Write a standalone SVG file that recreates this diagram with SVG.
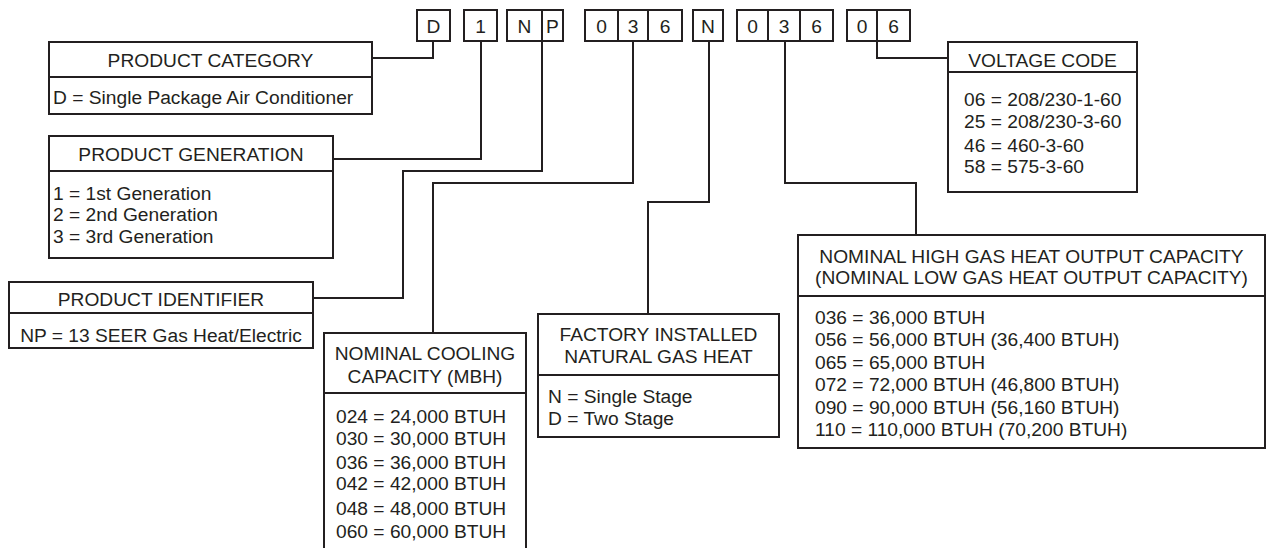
<svg xmlns="http://www.w3.org/2000/svg" width="1267" height="548" viewBox="0 0 1267 548">
<style>
.bx{fill:#fff;stroke:#231f20;stroke-width:2}
.ln{fill:none;stroke:#231f20;stroke-width:2}
text{font-family:"Liberation Sans",Arial,sans-serif;font-size:19.2px;fill:#231f20}
.c{text-anchor:middle}
</style>
<rect width="1267" height="548" fill="#fff"/>
<g id="code">
<rect class="bx" x="417" y="10" width="33" height="31"/>
<rect class="bx" x="464" y="10" width="33" height="31"/>
<rect class="bx" x="507" y="10" width="56" height="31"/>
<line class="ln" x1="542" y1="10" x2="542" y2="41"/>
<rect class="bx" x="585" y="10" width="97" height="31"/>
<line class="ln" x1="618" y1="10" x2="618" y2="41"/>
<line class="ln" x1="648" y1="10" x2="648" y2="41"/>
<rect class="bx" x="693" y="10" width="30" height="31"/>
<rect class="bx" x="737" y="10" width="96" height="31"/>
<line class="ln" x1="768" y1="10" x2="768" y2="41"/>
<line class="ln" x1="800" y1="10" x2="800" y2="41"/>
<rect class="bx" x="847" y="10" width="63" height="31"/>
<line class="ln" x1="877" y1="10" x2="877" y2="41"/>
<text class="c" x="433.5" y="32.5">D</text>
<text class="c" x="480.5" y="32.5">1</text>
<text class="c" x="524.5" y="32.5">N</text>
<text class="c" x="552.5" y="32.5">P</text>
<text class="c" x="601.5" y="32.5">0</text>
<text class="c" x="633" y="32.5">3</text>
<text class="c" x="665" y="32.5">6</text>
<text class="c" x="708" y="32.5">N</text>
<text class="c" x="752.5" y="32.5">0</text>
<text class="c" x="784" y="32.5">3</text>
<text class="c" x="816.5" y="32.5">6</text>
<text class="c" x="862" y="32.5">0</text>
<text class="c" x="893.5" y="32.5">6</text>
</g>
<g id="connectors">
<polyline class="ln" points="433,41 433,58 372,58"/>
<polyline class="ln" points="481,41 481,159 333,159"/>
<polyline class="ln" points="542,41 542,171 403,171 403,298 313,298"/>
<polyline class="ln" points="633,41 633,183 433,183 433,333"/>
<polyline class="ln" points="709,41 709,202 648,202 648,314"/>
<polyline class="ln" points="785,41 785,183 916,183 916,235"/>
<polyline class="ln" points="877,41 877,58 948,58"/>
</g>
<g id="product-category">
<rect class="bx" x="49" y="42" width="323" height="72"/>
<line class="ln" x1="49" y1="77" x2="372" y2="77"/>
<text class="c" x="210.5" y="66.5">PRODUCT CATEGORY</text>
<text x="53" y="103.5">D = Single Package Air Conditioner</text>
</g>
<g id="product-generation">
<rect class="bx" x="49" y="136" width="284" height="122"/>
<line class="ln" x1="49" y1="171" x2="333" y2="171"/>
<text class="c" x="191" y="160.5">PRODUCT GENERATION</text>
<text x="53" y="199.5">1 = 1st Generation</text>
<text x="53" y="220.5">2 = 2nd Generation</text>
<text x="53" y="242.5">3 = 3rd Generation</text>
</g>
<g id="product-identifier">
<rect class="bx" x="9" y="282" width="304" height="66"/>
<line class="ln" x1="9" y1="313" x2="313" y2="313"/>
<text class="c" x="161" y="305.5">PRODUCT IDENTIFIER</text>
<text class="c" x="161" y="341.5">NP = 13 SEER Gas Heat/Electric</text>
</g>
<g id="cooling-capacity">
<path class="bx" d="M324,550 V333 H526 V550"/>
<line class="ln" x1="324" y1="393" x2="526" y2="393"/>
<text class="c" x="425" y="359.5">NOMINAL COOLING</text>
<text class="c" x="425" y="382.5">CAPACITY (MBH)</text>
<text x="336" y="422.5">024 = 24,000 BTUH</text>
<text x="336" y="444.5">030 = 30,000 BTUH</text>
<text x="336" y="468.5">036 = 36,000 BTUH</text>
<text x="336" y="490">042 = 42,000 BTUH</text>
<text x="336" y="514.5">048 = 48,000 BTUH</text>
<text x="336" y="537.5">060 = 60,000 BTUH</text>
</g>
<g id="gas-heat">
<rect class="bx" x="538" y="314" width="241" height="123"/>
<line class="ln" x1="538" y1="375" x2="779" y2="375"/>
<text class="c" x="658.5" y="340.5">FACTORY INSTALLED</text>
<text class="c" x="658.5" y="362.5">NATURAL GAS HEAT</text>
<text x="548" y="402.5">N = Single Stage</text>
<text x="548" y="424.5">D = Two Stage</text>
</g>
<g id="heat-output">
<rect class="bx" x="798" y="235" width="467" height="213"/>
<line class="ln" x1="798" y1="296" x2="1265" y2="296"/>
<text class="c" x="1031.5" y="262.5">NOMINAL HIGH GAS HEAT OUTPUT CAPACITY</text>
<text class="c" x="1031.5" y="284">(NOMINAL LOW GAS HEAT OUTPUT CAPACITY)</text>
<text x="815" y="323.5">036 = 36,000 BTUH</text>
<text x="815" y="345.5">056 = 56,000 BTUH (36,400 BTUH)</text>
<text x="815" y="368.5">065 = 65,000 BTUH</text>
<text x="815" y="390.5">072 = 72,000 BTUH (46,800 BTUH)</text>
<text x="815" y="413.5">090 = 90,000 BTUH (56,160 BTUH)</text>
<text x="815" y="435.5">110 = 110,000 BTUH (70,200 BTUH)</text>
</g>
<g id="voltage-code">
<rect class="bx" x="948" y="42" width="189" height="150"/>
<line class="ln" x1="948" y1="72" x2="1137" y2="72"/>
<text class="c" x="1042.5" y="66.5">VOLTAGE CODE</text>
<text x="964" y="105.5">06 = 208/230-1-60</text>
<text x="964" y="127.5">25 = 208/230-3-60</text>
<text x="964" y="152">46 = 460-3-60</text>
<text x="964" y="173">58 = 575-3-60</text>
</g>
</svg>
